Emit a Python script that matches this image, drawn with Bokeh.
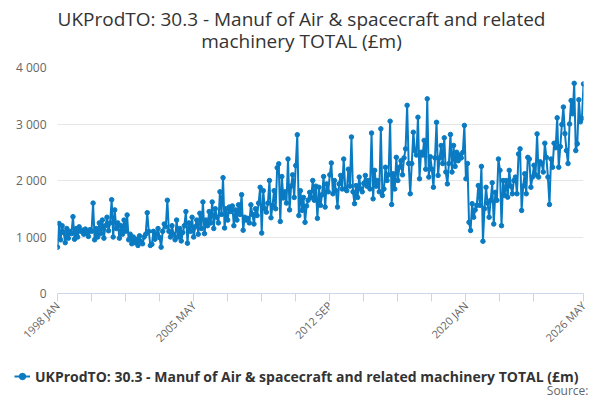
import math
from bokeh.plotting import figure
from bokeh.layouts import column
from bokeh.models import (ColumnDataSource, FixedTicker, Legend, LegendItem, Label, Range1d)
from bokeh.embed import file_html
from bokeh.resources import INLINE

# ---- data (monthly, £m) ----
v1998 = [820, 1240, 950, 1200, 1080, 900, 1150, 980, 1100, 1060, 1360, 960]
v1999 = [1150, 1000, 1180, 1100, 1120, 1050, 1140, 1080, 1010, 1130, 1100, 1600]
v2000 = [950, 1150, 1000, 1250, 1060, 1300, 980, 1200, 1350, 1110, 1250, 1660]
v2001 = [1000, 1480, 1150, 1250, 980, 1200, 1050, 1300, 1100, 1390, 950, 1050]
v2002 = [880, 1000, 900, 960, 850, 1020, 920, 880, 1000, 1050, 1430, 1100]
v2003 = [850, 870, 1100, 960, 1050, 1150, 990, 820, 1100, 1230, 1180, 1650]
v2004 = [1100, 1000, 1200, 1050, 950, 1300, 1000, 1150, 930, 1080, 1200, 1450]
v2005 = [890, 1250, 1100, 1350, 1000, 1180, 1300, 1050, 1420, 1150, 1620, 1060]
v2006 = [1300, 1200, 1450, 1250, 1620, 1150, 1500, 1350, 1250, 1800, 1400, 2050]
v2007 = [1160, 1500, 1300, 1530, 1450, 1550, 1200, 1480, 1300, 1570, 1400, 1750]
v2008 = [1120, 1350, 1300, 1330, 1250, 1570, 1400, 1230, 1500, 1380, 1600, 1880]
v2009 = [1070, 1820, 1500, 1440, 1600, 2000, 1340, 1560, 1820, 1500, 2225, 2295]
v2010 = [1275, 2070, 1690, 1800, 1600, 2380, 1480, 1900, 2100, 1700, 2265, 2810]
v2011 = [1380, 1820, 1470, 1700, 1260, 1550, 1650, 1790, 1700, 2000, 1650, 1900]
v2012 = [1330, 1880, 1560, 1750, 2070, 1530, 1940, 1800, 2100, 2310, 1765, 2000]
v2013 = [1820, 1530, 1940, 2090, 1850, 2380, 1850, 1820, 2200, 1900, 2770, 1800]
v2014 = [1590, 1910, 1700, 2060, 1850, 1800, 1950, 2090, 1900, 2000, 1850, 2840]
v2015 = [1675, 2180, 1900, 2000, 1800, 2915, 1735, 1850, 2235, 2000, 2100, 3050]
v2016 = [1575, 2120, 1850, 2410, 2000, 2235, 2350, 2100, 2400, 2560, 3330, 2300]
v2017 = [1765, 2300, 2855, 2530, 2450, 3120, 2030, 2500, 2450, 2710, 2200, 3445]
v2018 = [2060, 2420, 2200, 1880, 2400, 3030, 2090, 2400, 2620, 2300, 2755, 2150]
v2019 = [1940, 2300, 2815, 2150, 2620, 2250, 2500, 2350, 2450, 2400, 2500, 2975]
v2020 = [2030, 2300, 1260, 1115, 1590, 1350, 1480, 1560, 1910, 1560, 2250, 925]
v2021 = [1500, 1880, 1600, 1350, 1650, 1960, 1230, 1790, 1650, 2380, 2180, 1200]
v2022 = [2000, 1735, 2000, 1705, 2180, 1900, 1765, 2000, 2060, 1765, 2470, 2560]
v2023 = [1470, 1900, 2120, 1765, 2410, 2380, 1880, 2060, 2270, 2100, 2825, 2060]
v2024 = [2330, 2300, 2150, 2660, 2410, 2060, 1575, 2380, 2235, 2660, 2580, 3110]
v2025 = [2235, 2600, 2990, 3300, 2830, 2530, 2300, 3000, 3415, 3180, 3720, 2530]
v2026 = [2650, 3430, 3040, 3100, 3710]

years = list(range(1998, 2027))
month_names = ["JAN", "FEB", "MAR", "APR", "MAY", "JUN",
               "JUL", "AUG", "SEP", "OCT", "NOV", "DEC"]
tick_labels = ["1998 JAN", "2005 MAY", "2012 SEP", "2020 JAN", "2026 MAY"]
y_ticks = [0, 1000, 2000, 3000, 4000]
y_tick_labels = ["0", "1 000", "2 000", "3 000", "4 000"]

series_name = "UKProdTO: 30.3 - Manuf of Air & spacecraft and related machinery TOTAL (£m)"
title_line1 = "UKProdTO: 30.3 - Manuf of Air & spacecraft and related"
title_line2 = "machinery TOTAL (£m)"
source_text = "Source:"

yearly = [v1998, v1999, v2000, v2001, v2002, v2003, v2004, v2005, v2006, v2007,
          v2008, v2009, v2010, v2011, v2012, v2013, v2014, v2015, v2016, v2017,
          v2018, v2019, v2020, v2021, v2022, v2023, v2024, v2025, v2026]
values = []
periods = []
for yr, vals in zip(years, yearly):
    for m, v in enumerate(vals):
        values.append(v)
        periods.append(f"{yr} {month_names[m]}")
xs = list(range(len(values)))

src = ColumnDataSource(dict(x=xs, y=values, period=periods))

FONT = "Open Sans"
BLUE = "#0a7bc2"
W = 600
TITLE_H = 58
LEGEND_H = 46


def blank_fig(h):
    f = figure(width=W, height=h, output_backend="svg", toolbar_location=None,
               title=None, x_axis_type=None, y_axis_type=None,
               x_range=Range1d(0, W), y_range=Range1d(0, h),
               min_border_left=0, min_border_right=0,
               min_border_top=0, min_border_bottom=0)
    f.outline_line_color = None
    f.background_fill_color = "white"
    f.border_fill_color = "white"
    f.grid.visible = False
    return f


# ---- title strip ----
pt = blank_fig(TITLE_H)
pt.add_layout(Label(x=301, y=TITLE_H - 18, text=title_line1, text_align="center",
                    text_baseline="middle", text_font=FONT, text_font_size="19px",
                    text_color="#333333"))
pt.add_layout(Label(x=301, y=TITLE_H - 40, text=title_line2, text_align="center",
                    text_baseline="middle", text_font=FONT, text_font_size="19px",
                    text_color="#333333"))

# ---- main chart ----
p = figure(width=W, frame_height=226, output_backend="svg", toolbar_location=None,
           title=None, x_range=Range1d(0, len(values) - 1), y_range=Range1d(0, 4000),
           min_border_left=57, min_border_right=17, min_border_top=9, min_border_bottom=0)
p.outline_line_color = None
p.background_fill_color = "white"
p.border_fill_color = "white"

line = p.line("x", "y", source=src, line_color=BLUE, line_width=2)
dots = p.scatter("x", "y", source=src, marker="circle", size=4.5,
                 fill_color=BLUE, line_color=BLUE)

label_pos = [periods.index(t) for t in tick_labels]
minor_pos = [t for t in range(0, len(values), 22) if t <= len(values) - 1 - 22] + [len(values) - 1]
all_ticks = sorted(set(minor_pos + label_pos))
overrides = {t: "" for t in all_ticks}
for t, lab in zip(label_pos, tick_labels):
    overrides[t] = lab
p.xaxis.ticker = FixedTicker(ticks=all_ticks)
p.xaxis.major_label_overrides = overrides
p.xaxis.major_label_orientation = math.pi / 4
p.xaxis.axis_line_color = "#ccd6eb"
p.xaxis.major_tick_line_color = "#ccd6eb"
p.xaxis.major_tick_out = 8
p.xaxis.major_tick_in = 0
p.xaxis.minor_tick_line_color = None
p.xaxis.major_label_text_font = FONT
p.xaxis.major_label_text_font_size = "11px"
p.xaxis.major_label_text_color = "#666666"
p.xaxis.major_label_standoff = 2
p.xgrid.grid_line_color = None

p.yaxis.ticker = FixedTicker(ticks=y_ticks)
p.yaxis.major_label_overrides = dict(zip(y_ticks, y_tick_labels))
p.yaxis.axis_line_color = None
p.yaxis.major_tick_line_color = None
p.yaxis.minor_tick_line_color = None
p.yaxis.major_label_text_font = FONT
p.yaxis.major_label_text_font_size = "12px"
p.yaxis.major_label_text_color = "#666666"
p.yaxis.major_label_standoff = 5
p.ygrid.grid_line_color = "#e6e6e6"

# ---- legend strip ----
# the legend swatches use the same series; its values lie far outside this strip's
# range, so only the legend glyph is visible here
pl = blank_fig(LEGEND_H)
lg_line = pl.line("x", "y", source=src, line_color=BLUE, line_width=2)
lg_dot = pl.scatter("x", "y", source=src, marker="circle", size=4.5,
                    fill_color=BLUE, line_color=BLUE)
legend = Legend(items=[LegendItem(label=series_name, renderers=[lg_line, lg_dot])],
                orientation="horizontal", location=(14, LEGEND_H - 21 - 12),
                label_text_font=FONT, label_text_font_size="14px",
                label_text_font_style="bold", label_text_color="#333333",
                border_line_color=None, background_fill_alpha=0,
                glyph_width=16, glyph_height=20, label_height=20,
                label_standoff=5, padding=2, margin=0, spacing=0)
pl.add_layout(legend)
pl.add_layout(Label(x=588, y=LEGEND_H - 37, text=source_text, text_align="right",
                    text_baseline="middle", text_font=FONT, text_font_size="12px",
                    text_color="#666666"))

# each strip wrapped in its own column so that plot frames are not aligned
layout = column(column(pt, spacing=0), p, column(pl, spacing=0), spacing=0)
open("out.html", "w").write(file_html(layout, INLINE))
